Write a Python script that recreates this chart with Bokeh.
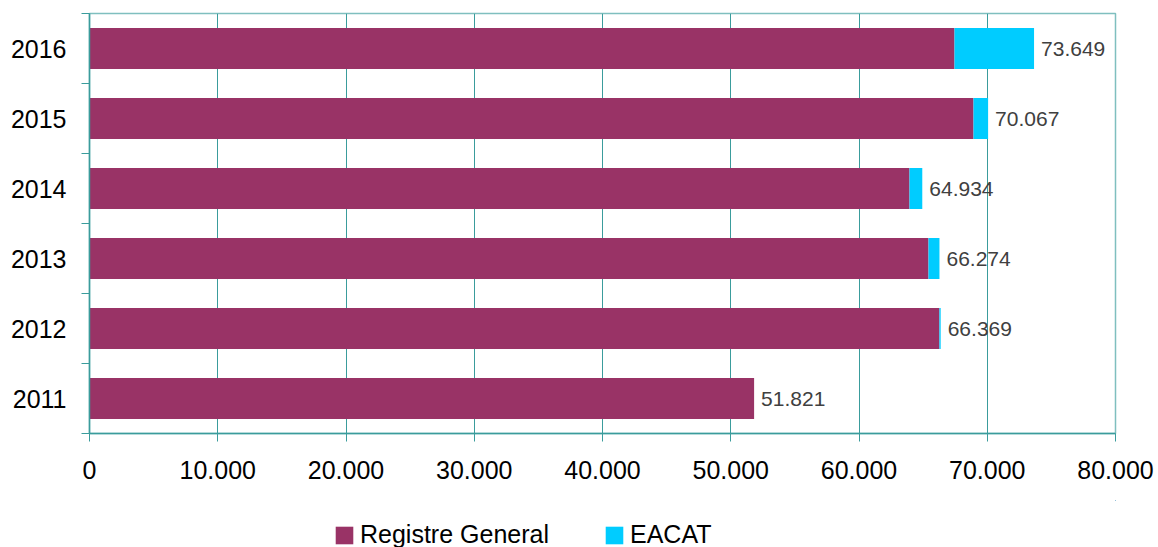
from bokeh.plotting import figure
from bokeh.layouts import column
from bokeh.models import ColumnDataSource, FixedTicker, Legend, LegendItem, Range1d
from bokeh.embed import file_html
from bokeh.resources import INLINE
from bokeh.core.properties import value

years = ["2011", "2012", "2013", "2014", "2015", "2016"]
registre_general = [51821, 66270, 65419, 63938, 68928, 67446]
eacat = [0, 99, 855, 996, 1139, 6203]
totals = [51821, 66369, 66274, 64934, 70067, 73649]
total_labels = ["51.821", "66.369", "66.274", "64.934", "70.067", "73.649"]
x_ticks = [0, 10000, 20000, 30000, 40000, 50000, 60000, 70000, 80000]
x_tick_labels = ["0", "10.000", "20.000", "30.000", "40.000", "50.000", "60.000", "70.000", "80.000"]
series_names = ["Registre General", "EACAT"]

FONT = "Liberation Sans"
MAROON = "#993366"
CYAN = "#00CCFF"
TEAL = "#3A9C9C"

ypos = [i + 0.5 for i in range(len(years))]
rg_end = registre_general
ea_end = [r + e for r, e in zip(registre_general, eacat)]

src = ColumnDataSource(dict(
    y=ypos, rg=rg_end, ea_start=rg_end, ea_end=ea_end,
    total=totals, lbl=total_labels,
))

p = figure(width=1158, height=500, output_backend="svg", toolbar_location=None,
           x_range=Range1d(0, 80000), y_range=Range1d(0, 6),
           min_border_left=89, min_border_right=43, min_border_top=13, min_border_bottom=67)

p.hbar(y="y", left=0, right="rg", height=0.585, color=MAROON, line_color=None, source=src)
p.hbar(y="y", left="ea_start", right="ea_end", height=0.585, color=CYAN, line_color=None, source=src)

p.text(x="total", y="y", text="lbl", source=src, x_offset=7,
       text_font=value(FONT), text_font_size="21px", text_color="#404040",
       text_align="left", text_baseline="middle")

# x axis
p.xaxis.ticker = FixedTicker(ticks=x_ticks)
p.xaxis.major_label_overrides = {t: l for t, l in zip(x_ticks, x_tick_labels)}
p.xaxis.major_label_text_font = FONT
p.xaxis.major_label_text_font_size = "25px"
p.xaxis.major_label_text_color = "#000000"
p.xaxis.major_tick_in = 0
p.xaxis.major_tick_out = 8
p.xaxis.minor_tick_out = 0
p.xaxis.minor_tick_in = 0
p.xaxis.major_label_standoff = 19
p.xaxis.axis_line_color = TEAL
p.xaxis.major_tick_line_color = TEAL
p.xaxis.axis_line_width = 1.5

# y axis
p.yaxis.ticker = FixedTicker(ticks=ypos, minor_ticks=list(range(7)))
p.yaxis.major_label_overrides = {y: l for y, l in zip(ypos, years)}
p.yaxis.major_label_text_font = FONT
p.yaxis.major_label_text_font_size = "25px"
p.yaxis.major_label_text_color = "#000000"
p.yaxis.major_tick_in = 0
p.yaxis.major_tick_out = 0
p.yaxis.minor_tick_in = 0
p.yaxis.minor_tick_out = 8
p.yaxis.minor_tick_line_color = TEAL
p.yaxis.major_label_standoff = 15
p.yaxis.axis_line_color = TEAL
p.yaxis.axis_line_width = 1.5

p.ygrid.grid_line_color = None
p.xgrid.grid_line_color = TEAL
p.xgrid.grid_line_width = 1
p.outline_line_color = "#7FBFBF"
p.outline_line_width = 1.5

# legend strip below the chart (its ranges keep the bars out of view; only the legend shows)
lf = figure(width=1158, height=47, output_backend="svg", toolbar_location=None,
            x_range=Range1d(-2, -1), y_range=Range1d(-2, -1),
            x_axis_type=None, y_axis_type=None,
            min_border_left=0, min_border_right=0, min_border_top=0, min_border_bottom=0)
lf.outline_line_color = None
lf.xgrid.grid_line_color = None
lf.ygrid.grid_line_color = None
g1 = lf.hbar(y="y", left=0, right="rg", height=0.5, color=MAROON, line_color=None, source=src)
g2 = lf.hbar(y="y", left="ea_start", right="ea_end", height=0.5, color=CYAN, line_color=None, source=src)

legend = Legend(items=[LegendItem(label=series_names[0], renderers=[g1]),
                       LegendItem(label=series_names[1], renderers=[g2])],
                location=(244, -2), orientation="horizontal",
                label_text_font=FONT, label_text_font_size="25px", label_text_color="#000000",
                glyph_width=22, glyph_height=22, label_standoff=5, spacing=54,
                padding=0, margin=0, border_line_color=None, background_fill_alpha=0)
lf.add_layout(legend, "center")

layout = column(p, lf, spacing=0)
open("out.html", "w").write(file_html(layout, INLINE))
